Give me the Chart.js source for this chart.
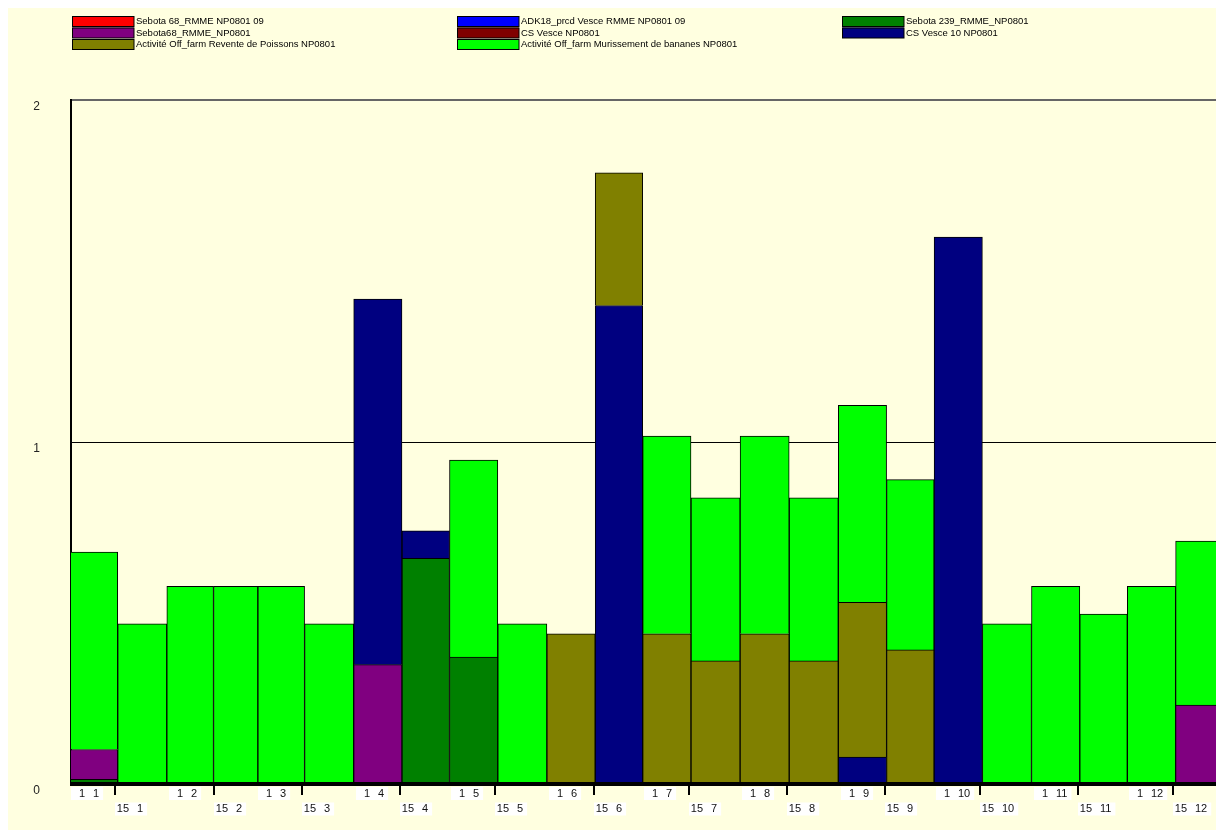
<!DOCTYPE html>
<html>
<head>
<meta charset="utf-8">
<title>NP0801</title>
<script src="https://cdn.jsdelivr.net/npm/chart.js@4.4.1/dist/chart.umd.min.js"></script>
<style>
  html, body { margin: 0; padding: 0; background: #fff; }
  #chart { display: block; }
</style>
</head>
<body>
<canvas id="chart" width="1216" height="830"></canvas>
<script>
// half-month periods, "day month" (2009)
const periods = ['1 1', '15 1', '1 2', '15 2', '1 3', '15 3', '1 4', '15 4', '1 5', '15 5', '1 6', '15 6',
                 '1 7', '15 7', '1 8', '15 8', '1 9', '15 9', '1 10', '15 10', '1 11', '15 11', '1 12', '15 12'];

const yTicks = [0, 1, 2];

// --- series (stack order = legend order) ---
const sebota68_09 = [null, null, null, null, null, null, null, null, null, null, null, null,
                     null, null, null, null, null, null, null, null, null, null, null, null];
const adk18Vesce = [null, null, null, null, null, null, null, null, null, null, null, null,
                    null, null, null, null, null, null, null, null, null, null, null, null];
const sebota239 = [0.014, null, null, null, null, null, null, 0.66, 0.371, null, null, null,
                   null, null, null, null, null, null, null, null, null, null, null, null];
const sebota68 = [0.087, null, null, null, null, null, 0.349, null, null, null, null, null,
                  null, null, null, null, null, null, null, null, null, null, null, 0.231];
const csVesce = [null, null, null, null, null, null, null, null, null, null, null, null,
                 null, null, null, null, null, null, null, null, null, null, null, null];
const csVesce10 = [null, null, null, null, null, null, 1.069, 0.08, null, null, null, 1.399,
                   null, null, null, null, 0.079, null, 1.599, null, null, null, null, null];
const reventePoissons = [null, null, null, null, null, null, null, null, null, null, 0.439, 0.388,
                         0.439, 0.36, 0.439, 0.36, 0.452, 0.392, null, null, null, null, null, null];
const murissementBananes = [0.577, 0.468, 0.578, 0.578, 0.578, 0.468, null, null, 0.576, 0.468, null, null,
                            0.578, 0.477, 0.578, 0.477, 0.576, 0.498, null, 0.468, 0.578, 0.497, 0.578, 0.479];

const seriesLabels = [
    'Sebota 68_RMME NP0801 09', 'ADK18_prcd Vesce RMME NP0801 09', 'Sebota 239_RMME_NP0801',
    'Sebota68_RMME_NP0801', 'CS Vesce NP0801', 'CS Vesce 10 NP0801',
    'Activité Off_farm Revente de Poissons NP0801', 'Activité Off_farm Murissement de bananes NP0801'
];
const seriesValues = [sebota68_09, adk18Vesce, sebota239, sebota68, csVesce, csVesce10, reventePoissons, murissementBananes];
const seriesColors = ['#ff0000', '#0000ff', '#008000', '#800080', '#800000', '#000080', '#808000', '#00ff00'];

// --- period positions on a day-of-year axis ---
function dayOfYear(label) {
    const [d, m] = label.split(' ').map(Number);
    return (Date.UTC(2009, m - 1, d) - Date.UTC(2009, 0, 1)) / 86400000;
}
const periodStart = periods.map(dayOfYear);
const periodEnd = periodStart.slice(1).concat([365]);
const periodMid = periodStart.map((s, i) => (s + periodEnd[i]) / 2);

const FONT = '"Liberation Sans", Arial, sans-serif';
const PANEL = '#ffffe0';

// background panel
const panelPlugin = {
    id: 'panel',
    beforeDraw(chart) {
        const ctx = chart.ctx;
        ctx.save();
        ctx.fillStyle = '#fff';
        ctx.fillRect(0, 0, chart.width, chart.height);
        ctx.fillStyle = PANEL;
        ctx.fillRect(8, 8, chart.width - 8, chart.height - 8);
        ctx.restore();
    }
};

// legend laid out in 3 columns
const gridLegendPlugin = {
    id: 'gridLegend',
    afterDraw(chart) {
        const ctx = chart.ctx;
        const colX = [72, 457, 842];
        const rowY = [16, 27.5, 39];
        ctx.save();
        ctx.font = '9.5px ' + FONT;
        ctx.textBaseline = 'middle';
        chart.data.datasets.forEach((ds, i) => {
            const x = colX[i % 3];
            const y = rowY[Math.floor(i / 3)];
            ctx.fillStyle = ds.backgroundColor;
            ctx.fillRect(x, y, 62, 10.5);
            ctx.strokeStyle = '#000';
            ctx.lineWidth = 1;
            ctx.strokeRect(x + 0.5, y + 0.5, 61.5, 10);
            ctx.fillStyle = '#000';
            ctx.fillText(ds.label, x + 64, y + 5.5);
        });
        ctx.restore();
    }
};

// two-row date labels under the axis
const dateLabelsPlugin = {
    id: 'dateLabels',
    afterDraw(chart) {
        const ctx = chart.ctx;
        const xs = chart.scales.x;
        const bottom = chart.chartArea.bottom;
        ctx.save();
        ctx.font = '11px ' + FONT;
        ctx.textBaseline = 'middle';
        periods.forEach((p, i) => {
            const [d, m] = p.split(' ');
            const px = Math.round(xs.getPixelForValue(periodStart[i]));
            const secondRow = d !== '1';
            if (secondRow) {
                ctx.strokeStyle = '#000';
                ctx.lineWidth = 2;
                ctx.beginPath();
                ctx.moveTo(px, bottom + 2);
                ctx.lineTo(px, bottom + 11);
                ctx.stroke();
            }
            const top = secondRow ? bottom + 18.5 : bottom + 3;
            const mw = ctx.measureText(m).width;
            ctx.fillStyle = '#fff';
            ctx.fillRect(px, top, 22 + mw + 4, 13);
            ctx.fillStyle = '#111';
            ctx.textAlign = 'right';
            ctx.fillText(d, px + 14, top + 6.5);
            ctx.textAlign = 'left';
            ctx.fillText(m, px + 22, top + 6.5);
        });
        ctx.restore();
    }
};

const datasets = seriesValues.map((vals, i) => ({
    label: seriesLabels[i],
    data: vals.map((v, j) => ({ x: periodMid[j], y: v })),
    backgroundColor: seriesColors[i],
    borderColor: '#000',
    borderWidth: 1,
    barThickness: 'flex',
    categoryPercentage: 1,
    barPercentage: 1,
    clip: 0
}));

document.addEventListener('DOMContentLoaded', () => {
    new Chart(document.getElementById('chart'), {
        type: 'bar',
        data: { datasets },
        plugins: [panelPlugin, gridLegendPlugin, dateLabelsPlugin],
        options: {
            responsive: false,
            animation: false,
            devicePixelRatio: 1,
            layout: { padding: { top: 100, left: 0, right: 0, bottom: 0 } },
            plugins: { legend: { display: false }, tooltip: { enabled: false } },
            scales: {
                x: {
                    type: 'linear',
                    stacked: true,
                    offset: false,
                    min: 0,
                    max: 361.5,
                    grid: { display: false, offset: false },
                    border: { display: false },
                    ticks: { display: false },
                    afterFit(scale) { scale.height = 46; }
                },
                y: {
                    stacked: true,
                    min: yTicks[0],
                    max: yTicks[yTicks.length - 1],
                    z: 1,
                    afterBuildTicks(scale) { scale.ticks = yTicks.map(v => ({ value: v })); },
                    ticks: {
                        padding: 31,
                        labelOffset: 7,
                        color: '#222',
                        font: { family: FONT, size: 12 }
                    },
                    grid: {
                        drawTicks: false,
                        color: c => c.tick.value === 2 ? '#666' : '#000',
                        lineWidth: c => c.tick.value === 0 ? 4 : (c.tick.value === 2 ? 2 : 1)
                    },
                    border: { color: '#000', width: 2 },
                    afterFit(scale) { scale.width = 71; }
                }
            }
        }
    });
});
</script>
</body>
</html>
